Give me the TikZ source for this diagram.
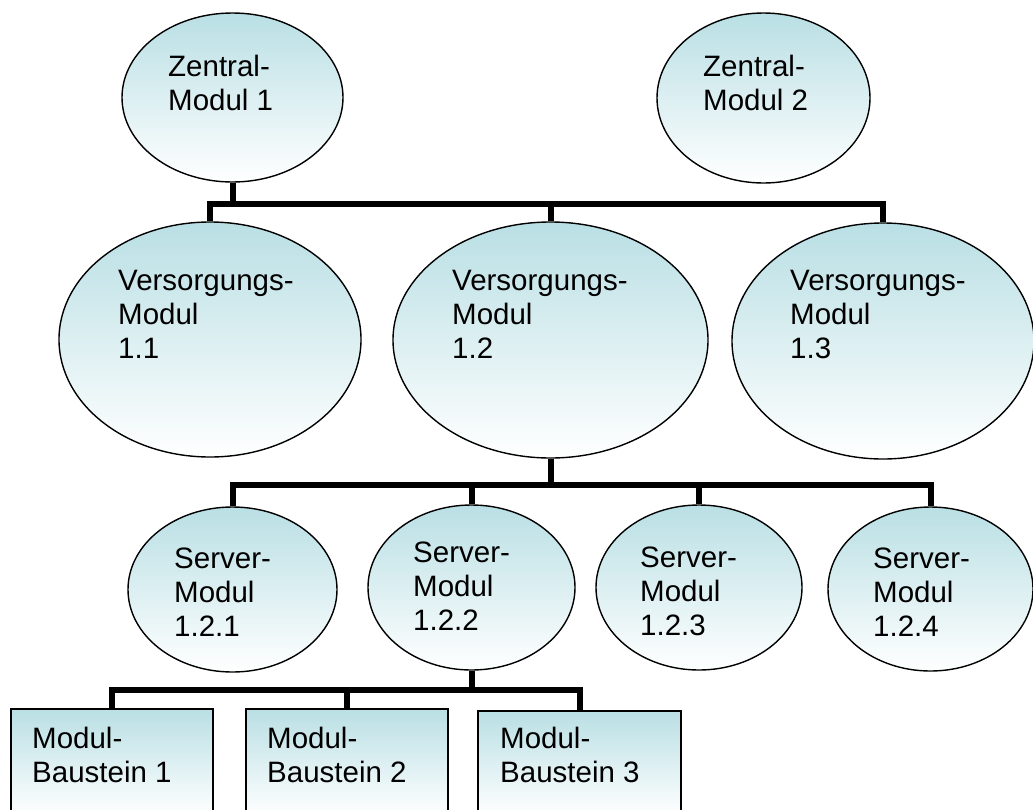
\documentclass[tikz,border=0pt]{standalone}
\usepackage{fontspec}
\setmainfont{Liberation Sans}
\usetikzlibrary{shapes.geometric}
\definecolor{fillc}{RGB}{185,223,228}
\newcommand\mlines[1]{\begin{tabular}[t]{@{}l@{}}#1\end{tabular}}
\tikzset{
  ell/.style={ellipse, draw=black, line width=1.4pt, top color=fillc, bottom color=white, inner sep=0pt},
  box/.style={rectangle, draw=black, line width=1.4pt, top color=fillc, bottom color=white, inner sep=0pt},
  conn/.style={draw=black, line width=6pt, line join=miter},
  txt/.style={inner sep=0pt, anchor=base west, font=\fontsize{29.5}{34}\selectfont}
}
\begin{document}
\begin{tikzpicture}[x=1pt, y=-1pt]
\useasboundingbox (0,0) rectangle (1033,809);
\clip (0,0) rectangle (1033,809);
% top level
\node[ell, minimum width=221pt, minimum height=169pt] (z1) at (232.5,97.5) {};
\node[ell, minimum width=213pt, minimum height=170pt] (z2) at (763.5,98) {};
% supply modules
\node[ell, minimum width=302pt, minimum height=235pt] (v1) at (210,339.5) {};
\node[ell, minimum width=315pt, minimum height=236pt] (v2) at (550.5,340) {};
\node[ell, minimum width=302pt, minimum height=236pt] (v3) at (883,341) {};
% server modules
\node[ell, minimum width=209pt, minimum height=165pt] (s1) at (232.5,589.5) {};
\node[ell, minimum width=207pt, minimum height=165pt] (s2) at (471.5,587.5) {};
\node[ell, minimum width=206pt, minimum height=165pt] (s3) at (699,587.5) {};
\node[ell, minimum width=205pt, minimum height=164pt] (s4) at (930.5,589) {};
% module blocks
\node[box, minimum width=202pt, minimum height=106pt] (r1) at (112,762) {};
\node[box, minimum width=202pt, minimum height=106pt] (r2) at (347,762) {};
\node[box, minimum width=203pt, minimum height=104pt] (r3) at (579.5,763) {};
% texts
\node[txt] (tz1) at (168,76) {\mlines{Zentral-\\Modul 1}};
\node[txt] (tz2) at (703,76) {\mlines{Zentral-\\Modul 2}};
\node[txt] (tv1) at (118,290) {\mlines{Versorgungs-\\Modul\\1.1}};
\node[txt] (tv2) at (452,290) {\mlines{Versorgungs-\\Modul\\1.2}};
\node[txt] (tv3) at (790,290) {\mlines{Versorgungs-\\Modul\\1.3}};
\node[txt] (ts1) at (174,568) {\mlines{Server-\\Modul\\1.2.1}};
\node[txt] (ts2) at (413,562) {\mlines{Server-\\Modul\\1.2.2}};
\node[txt] (ts3) at (640,567) {\mlines{Server-\\Modul\\1.2.3}};
\node[txt] (ts4) at (873,568) {\mlines{Server-\\Modul\\1.2.4}};
\node[txt] (tr1) at (32,748) {\mlines{Modul-\\Baustein 1}};
\node[txt] (tr2) at (267,748) {\mlines{Modul-\\Baustein 2}};
\node[txt] (tr3) at (500,748) {\mlines{Modul-\\Baustein 3}};
% bus levels
\coordinate (b1) at (0,204);
\coordinate (b2) at (0,485);
\coordinate (b3) at (0,690);
% connectors
\draw[conn] (z1.south) -- (z1.south |- b1);
\draw[conn] (v1.north) -- (v1.north |- b1) -- (v3.north |- b1) -- (v3.north);
\draw[conn] (v2.north) -- (v2.north |- b1);
\draw[conn] (v2.south) -- (v2.south |- b2);
\draw[conn] (s1.north) -- (s1.north |- b2) -- (s4.north |- b2) -- (s4.north);
\draw[conn] (s2.north) -- (s2.north |- b2);
\draw[conn] (s3.north) -- (s3.north |- b2);
\draw[conn] (s2.south) -- (s2.south |- b3);
\draw[conn] (r1.north) -- (r1.north |- b3) -- (r3.north |- b3) -- (r3.north);
\draw[conn] (r2.north) -- (r2.north |- b3);
\end{tikzpicture}
\end{document}
